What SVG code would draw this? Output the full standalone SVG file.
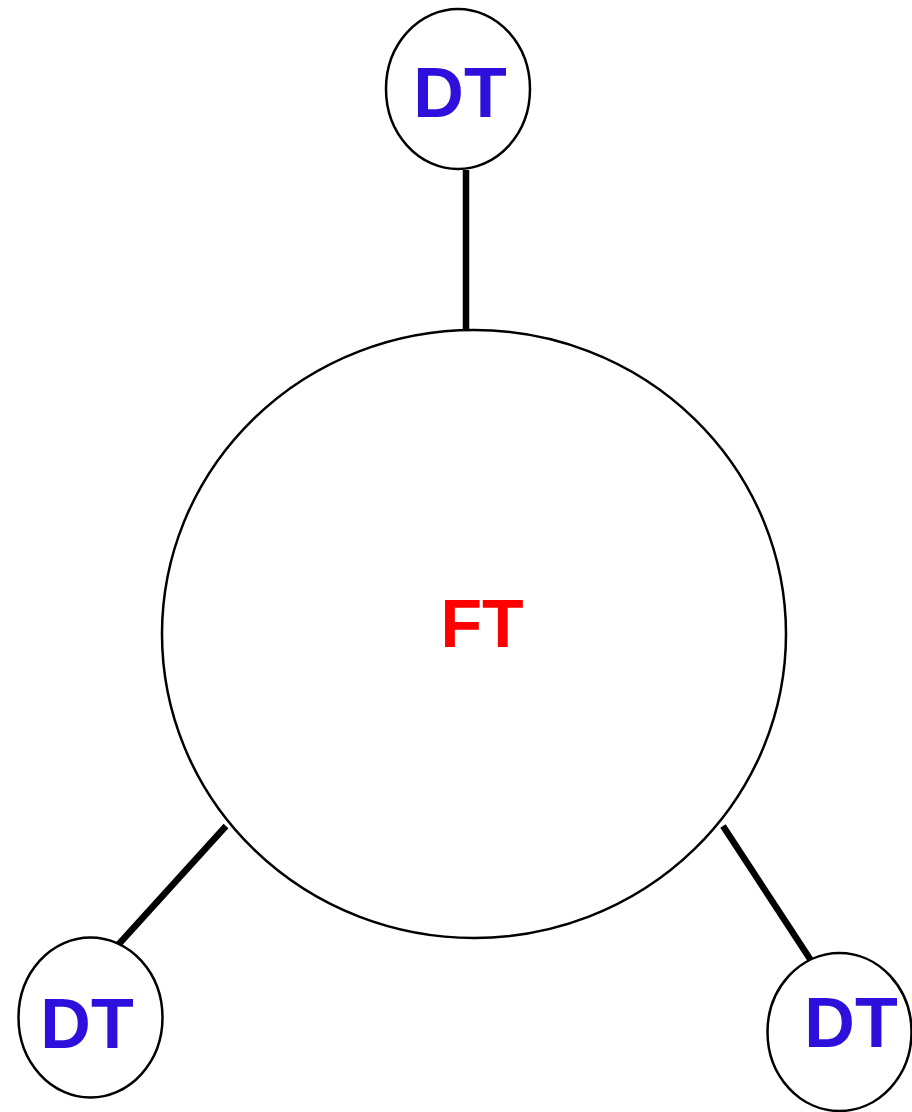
<svg xmlns="http://www.w3.org/2000/svg" width="912" height="1112" viewBox="0 0 912 1112">
  <style>
    .ring { fill: #ffffff; stroke: #000000; stroke-width: 2.5; }
    .link { stroke: #000000; stroke-width: 6.5; fill: none; }
    .dt { font-family: "Liberation Sans", Arial, sans-serif; font-weight: bold; font-size: 70px; fill: #2d10dc; text-anchor: middle; }
    .ft { font-family: "Liberation Sans", Arial, sans-serif; font-weight: bold; font-size: 68px; fill: #ff0000; text-anchor: middle; }
  </style>
  <rect width="912" height="1112" fill="#ffffff"/>
  <g id="connectors">
    <line class="link" x1="466" y1="170" x2="466" y2="330"/>
    <line class="link" x1="226" y1="826" x2="118" y2="945"/>
    <line class="link" x1="723" y1="826" x2="812" y2="962"/>
  </g>
  <g id="ft">
    <ellipse class="ring" cx="474" cy="634" rx="312" ry="304"/>
    <text class="ft" x="482" y="647">FT</text>
  </g>
  <g id="dt-top">
    <ellipse class="ring" cx="458" cy="89" rx="72" ry="80"/>
    <text class="dt" x="460" y="117">DT</text>
  </g>
  <g id="dt-left">
    <ellipse class="ring" cx="90.5" cy="1017.5" rx="72" ry="80"/>
    <text class="dt" x="87" y="1048">DT</text>
  </g>
  <g id="dt-right">
    <ellipse class="ring" cx="839.5" cy="1032" rx="72" ry="79"/>
    <text class="dt" x="851" y="1047">DT</text>
  </g>
</svg>
